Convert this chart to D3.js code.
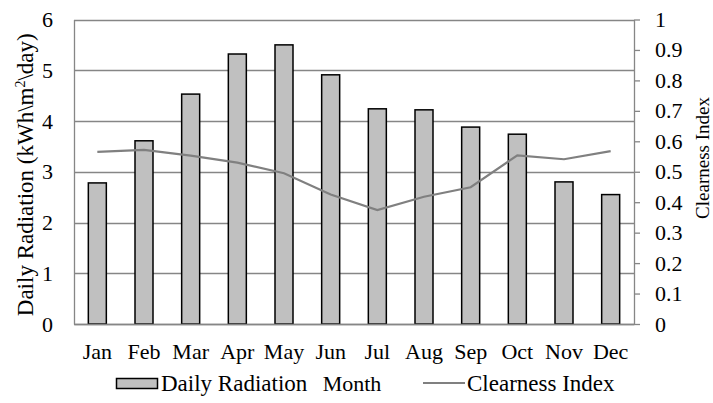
<!DOCTYPE html>
<html>
<head>
<meta charset="utf-8">
<script src="https://cdn.jsdelivr.net/npm/d3@7"></script>
<style>
  body { margin: 0; background: #fff; }
</style>
</head>
<body>
<div id="chart"></div>
<script>
'use strict'

const months = ['Jan', 'Feb', 'Mar', 'Apr', 'May', 'Jun', 'Jul', 'Aug', 'Sep', 'Oct', 'Nov', 'Dec']
const radiation = [2.78, 3.61, 4.53, 5.32, 5.50, 4.91, 4.24, 4.22, 3.88, 3.74, 2.80, 2.55]
const clearness = [0.565, 0.572, 0.553, 0.530, 0.495, 0.425, 0.374, 0.418, 0.449, 0.554, 0.541, 0.568]
const leftTicks = [0, 1, 2, 3, 4, 5, 6]
const rightTicks = [0, 0.1, 0.2, 0.3, 0.4, 0.5, 0.6, 0.7, 0.8, 0.9, 1]

const width = 713, height = 403
const margin = {top: 19.5, right: 79, bottom: 79, left: 74}
const grey = '#868686'
const serif = "'Liberation Serif', 'Times New Roman', Times, serif"

const svg = d3.select('#chart').append('svg')
  .attr('width', width)
  .attr('height', height)
  .attr('font-family', serif)

const x = d3.scaleBand()
  .domain(months)
  .range([margin.left, width - margin.right])

const y = d3.scaleLinear()
  .domain([0, 6])
  .range([height - margin.bottom, margin.top])

const y2 = d3.scaleLinear()
  .domain([0, 1])
  .range([height - margin.bottom, margin.top])

// gridlines
svg.append('g')
  .selectAll('line')
  .data(leftTicks)
  .join('line')
    .attr('x1', margin.left)
    .attr('x2', width - margin.right)
    .attr('y1', d => Math.round(y(d)) + 0.5)
    .attr('y2', d => Math.round(y(d)) + 0.5)
    .attr('stroke', grey)
    .attr('stroke-width', 1.3)

function styleText(sel, size) {
  sel.attr('font-family', null)
    .style('font-family', serif)
    .style('font-size', size + 'px')
    .attr('fill', '#000')
}

// left axis
const yAxis = svg.append('g')
  .attr('transform', `translate(${margin.left},0)`)
  .call(d3.axisLeft(y).tickValues(leftTicks).tickSize(0).tickPadding(21).tickFormat(d3.format('d')))
yAxis.attr('font-family', serif)
yAxis.select('.domain').attr('stroke', grey).attr('stroke-width', 1.3)
styleText(yAxis.selectAll('text'), 22)

// right axis
const y2Axis = svg.append('g')
  .attr('transform', `translate(${width - margin.right},0)`)
  .call(d3.axisRight(y2).tickValues(rightTicks).tickSizeOuter(0).tickSizeInner(6).tickPadding(15).tickFormat(d => String(+d.toFixed(1))))
y2Axis.attr('font-family', serif)
y2Axis.select('.domain').attr('stroke', grey).attr('stroke-width', 1.3)
y2Axis.selectAll('.tick line').attr('stroke', grey).attr('stroke-width', 1.3)
styleText(y2Axis.selectAll('text'), 22)

// bars
const barW = 18
svg.append('g')
  .selectAll('rect')
  .data(months.map((m, i) => ({m, v: radiation[i]})))
  .join('rect')
    .attr('x', d => x(d.m) + x.bandwidth() / 2 - barW / 2)
    .attr('y', d => y(d.v))
    .attr('width', barW)
    .attr('height', d => y(0) - y(d.v))
    .attr('fill', '#c0c0c0')
    .attr('stroke', '#000')
    .attr('stroke-width', 1.5)

// bottom axis
const xAxis = svg.append('g')
  .attr('transform', `translate(0,${y(0)})`)
  .call(d3.axisBottom(x).tickSize(0).tickPadding(19))
xAxis.attr('font-family', serif)
xAxis.select('.domain').attr('stroke', grey).attr('stroke-width', 1.3)
styleText(xAxis.selectAll('text'), 22)

// clearness line
const line = d3.line()
  .x((d, i) => x(months[i]) + x.bandwidth() / 2)
  .y(d => y2(d))

svg.append('path')
  .datum(clearness)
  .attr('d', line)
  .attr('fill', 'none')
  .attr('stroke', '#808080')
  .attr('stroke-width', 2.2)

// axis titles
const leftTitle = svg.append('text')
  .attr('transform', `translate(33,${(margin.top + y(0)) / 2 + 3}) rotate(-90)`)
  .attr('text-anchor', 'middle')
leftTitle.append('tspan').text('Daily Radiation (kWh\\m')
leftTitle.append('tspan').attr('dy', -8).style('font-size', '14px').text('2')
leftTitle.append('tspan').attr('dy', 8).text('\\day)')
styleText(leftTitle, 23)

styleText(svg.append('text')
  .attr('transform', `translate(708.5,158) rotate(-90)`)
  .attr('text-anchor', 'middle')
  .text('Clearness Index'), 19)

styleText(svg.append('text')
  .attr('x', 352)
  .attr('y', 391)
  .attr('text-anchor', 'middle')
  .text('Month'), 22)

// legend
const legend = svg.append('g')
legend.append('rect')
  .attr('x', 116.5).attr('y', 378.5)
  .attr('width', 41).attr('height', 10)
  .attr('fill', '#c0c0c0').attr('stroke', '#000').attr('stroke-width', 1.5)
styleText(legend.append('text')
  .attr('x', 161).attr('y', 391)
  .text('Daily Radiation'), 23)
legend.append('line')
  .attr('x1', 423).attr('x2', 465)
  .attr('y1', 383).attr('y2', 383)
  .attr('stroke', '#808080').attr('stroke-width', 2.2)
styleText(legend.append('text')
  .attr('x', 467).attr('y', 391)
  .text('Clearness Index'), 23)
</script>
</body>
</html>
